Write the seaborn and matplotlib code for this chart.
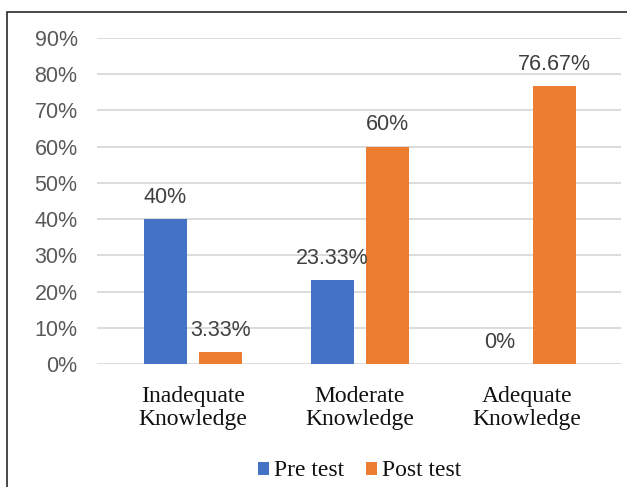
import matplotlib
matplotlib.use("Agg")
import matplotlib.pyplot as plt
from matplotlib.patches import Rectangle
import seaborn as sns
import pandas as pd

categories = ["Inadequate\nKnowledge", "Moderate\nKnowledge", "Adequate\nKnowledge"]
series = ["Pre test", "Post test"]
pre_test = [40.0, 23.33, 0.0]
post_test = [3.33, 60.0, 76.67]
y_ticks = [0, 10, 20, 30, 40, 50, 60, 70, 80, 90]

colors = {"Pre test": "#4472C4", "Post test": "#ED7D31"}

df = pd.DataFrame({
    "category": categories * 2,
    "test": [series[0]] * 3 + [series[1]] * 3,
    "value": pre_test + post_test,
})

sns.set_theme(style="white")
num_font = "Liberation Sans"
cat_font = "Liberation Serif"

fig = plt.figure(figsize=(6.27, 4.87), dpi=100)
ax = fig.add_axes([97 / 627, 1 - 364.3 / 487, (621 - 97) / 627, (364.3 - 37.7) / 487])

sns.barplot(data=df, x="category", y="value", hue="test", hue_order=series,
            order=categories, palette=colors, width=0.66, gap=0.21,
            saturation=1, ax=ax, legend=True, edgecolor="none")

ax.set_ylim(0, 90)
ax.set_xlim(-0.575, 2.563)
ax.set_yticks(y_ticks)
ax.set_yticklabels([f"{t}%" for t in y_ticks], fontfamily=num_font,
                   fontsize=15.5, color="#595959")
ax.set_xticks(range(len(categories)))
ax.set_xticklabels(categories, fontfamily=cat_font, fontsize=17,
                   color="#111111", linespacing=1.12)
ax.tick_params(axis="y", length=0, pad=14)
ax.tick_params(axis="x", length=0, pad=15.5)
ax.set_xlabel("")
ax.set_ylabel("")

ax.yaxis.grid(True, color="#d9d9d9", linewidth=1.3)
ax.set_axisbelow(True)
for s in ax.spines.values():
    s.set_visible(False)

# value labels above each bar
for cont, vals in zip(ax.containers, [pre_test, post_test]):
    labels = [f"{v:g}%" for v in vals]
    ax.bar_label(cont, labels=labels, padding=8, fontfamily=num_font,
                 fontsize=15.5, color="#404040")

handles, labels = ax.get_legend_handles_labels()
ax.get_legend().remove()
fig.legend(handles, labels, loc="center", bbox_to_anchor=(359.5 / 627, 1 - 471 / 487),
           ncol=2, frameon=False, prop={"family": cat_font, "size": 17},
           handlelength=0.47, handleheight=0.47, handletextpad=0.2,
           columnspacing=0.95, borderpad=0, labelcolor="#111111")

# outer chart border
fig.patches.append(Rectangle((7.3 / 627, -0.1), 1.2, 1.1 - 12.3 / 487,
                             transform=fig.transFigure, fill=False,
                             edgecolor="#3a3a3a", linewidth=1.3))

fig.savefig("out.png", dpi=100)
